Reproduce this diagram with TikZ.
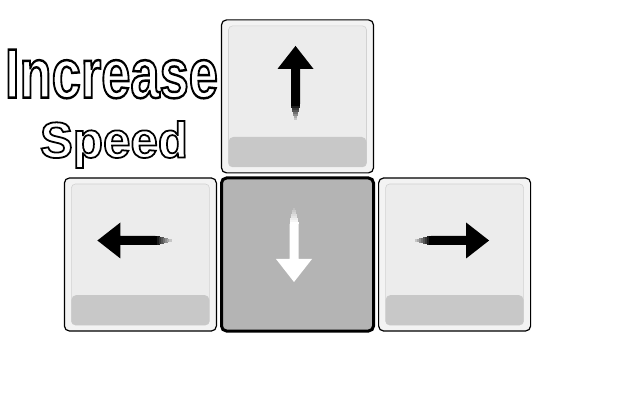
\documentclass[tikz,border=0pt]{standalone}
\usepackage{fontspec}
\setmainfont{Liberation Sans}
\usepackage{graphicx}
\usetikzlibrary{positioning,calc}
\definecolor{keyrim}{HTML}{F3F3F3}
\definecolor{keyface}{HTML}{ECECEC}
\definecolor{keyband}{HTML}{C8C8C8}
\definecolor{pressfill}{HTML}{B4B4B4}
\newcommand{\outlinetext}[1]{\special{pdf:literal 0 G 2 Tr 0.35 w}#1\special{pdf:literal 0 Tr}}
\tikzset{
	keybase/.style = {rectangle, rounded corners=5pt, draw=black, inner sep=0pt,
		minimum width=152pt, minimum height=153pt},
	keycap/.style = {keybase, line width=1.2pt, fill=keyrim,
		path picture={
			\fill[keyface, draw=gray!35, line width=0.6pt, rounded corners=4pt]
				($(path picture bounding box.south west)+(7,6)$) rectangle
				($(path picture bounding box.north east)+(-7,-6)$);
			\fill[keyband] ($(path picture bounding box.south west)+(7,36)$)
				{[rounded corners=4pt] -- ($(path picture bounding box.south west)+(7,6)$)
				-- ($(path picture bounding box.south east)+(-7,6)$)}
				-- ($(path picture bounding box.south east)+(-7,36)$) -- cycle;
		}},% touche levee
	keypressed/.style = {keybase, line width=3pt, fill=pressfill},% touche enfoncee
	caption/.style = {inner sep=0pt, font=\bfseries, text=white}
}
\begin{document}
\begin{tikzpicture}[x=1pt,y=1pt]
	\useasboundingbox (0,0) rectangle (620,415);
	% les touches
	\node[keypressed] (keydown) at (297.5,160.5) {};
	\node[keycap, left=3pt of keydown] (keyleft) {};
	\node[keycap, right=3pt of keydown] (keyright) {};
	\node[keycap, above=3pt of keydown] (keyup) {};
	% les fleches
	\foreach \k/\tx/\ty/\ang/\ink/\bg in {keyup/-2/50.5/90/black/keyface,
		keyleft/-43/14/180/black/keyface, keyright/34.5/14/0/black/keyface,
		keydown/-3.5/-27.5/-90/white/pressfill}{
		\begin{scope}[shift={($(\k.center)+(\tx,\ty)$)}, rotate=\ang]
			\fill[\ink] (0,0) -- (-23,18) -- (-23,4.5) -- (-58,4.5) -- (-58,-4.5)
				-- (-23,-4.5) -- (-23,-18) -- cycle;
			\foreach \i [evaluate=\i as \p using int(100-12*\i),
				evaluate=\i as \w using 4.5-0.45*\i] in {0,...,7}
				\fill[\ink!\p!\bg] (-58-2*\i,\w) rectangle (-60.2-2*\i,-\w);
		\end{scope}
	}
	% le texte
	\node[caption] (incr) at (111.5,341) {\resizebox{213pt}{48pt}{\outlinetext{Increase}}};
	\node[caption] (spd) at (114,270.5) {\resizebox*{148pt}{47pt}{\outlinetext{Speed}}};
\end{tikzpicture}
\end{document}
